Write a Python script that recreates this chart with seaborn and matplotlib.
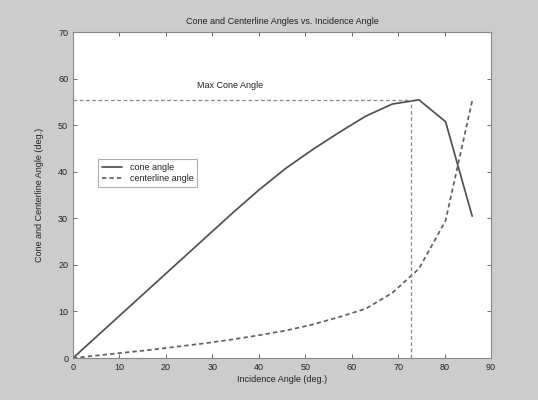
import numpy as np
import pandas as pd
import matplotlib
matplotlib.use("Agg")
import matplotlib.pyplot as plt
import seaborn as sns

# --- data (incidence angle sampled every 0.1 rad) ---
incidence = [0, 5.73, 11.46, 17.19, 22.92, 28.65, 34.38, 40.11, 45.84,
             51.57, 57.30, 63.03, 68.75, 74.48, 80.21, 85.94]
cone_angle = [0, 5.2, 10.4, 15.6, 20.8, 26.0, 31.2, 36.2, 40.8,
              44.8, 48.5, 52.0, 54.6, 55.5, 50.8, 30.5]
centerline_angle = [0, 0.6, 1.2, 1.8, 2.5, 3.2, 4.0, 4.9, 5.9,
                    7.2, 8.8, 10.6, 14.0, 19.2, 29.5, 55.3]
max_cone = 55.5
max_cone_incidence = 72.8

df = pd.DataFrame({
    "incidence": incidence * 2,
    "angle": cone_angle + centerline_angle,
    "series": ["cone angle"] * len(incidence) + ["centerline angle"] * len(incidence),
})

sns.set_theme(style="ticks")
plt.rcParams["font.family"] = ["Liberation Sans", "DejaVu Sans"]

fig = plt.figure(figsize=(5.38, 4.0), dpi=100, facecolor="#cccccc")
ax = fig.add_axes([0.1357, 0.105, 0.777, 0.814])
ax.set_facecolor("white")

sns.lineplot(data=df, x="incidence", y="angle", hue="series", style="series",
             palette={"cone angle": "#505050", "centerline angle": "#606060"},
             dashes={"cone angle": "", "centerline angle": (2.5, 1.8)},
             linewidth=1.25, ax=ax, sort=False)

# max cone angle guides
ax.plot([0, max_cone_incidence], [max_cone, max_cone], color="#8a8a8a",
        linestyle=(0, (3, 2)), linewidth=0.9)
ax.plot([max_cone_incidence, max_cone_incidence], [0, max_cone], color="#8a8a8a",
        linestyle=(0, (3, 2)), linewidth=0.9)
ax.text(26.7, 58.5, "Max Cone Angle", fontsize=6.5, va="center", ha="left", color="#222222")

ax.set_xlim(0, 90)
ax.set_ylim(0, 70)
ax.set_xticks(range(0, 91, 10))
ax.set_yticks(range(0, 71, 10))
ax.tick_params(direction="in", top=True, right=True, labelsize=6.5,
               length=3, width=0.6, colors="#555555", labelcolor="#222222")
for s in ax.spines.values():
    s.set_color("#888888")
    s.set_linewidth(0.8)

ax.set_title("Cone and Centerline Angles vs. Incidence Angle", fontsize=6.5, color="#222222", pad=6)
ax.set_xlabel("Incidence Angle (deg.)", fontsize=6.5, color="#222222", labelpad=2)
ax.set_ylabel("Cone and Centerline Angle (deg.)", fontsize=6.5, color="#222222", labelpad=10)

leg = ax.legend(loc="upper left", bbox_to_anchor=(0.05, 0.625), fontsize=6.5,
                frameon=True, fancybox=False, handlelength=2.2, borderpad=0.45,
                labelspacing=0.2)
leg.get_frame().set_edgecolor("#999999")
leg.get_frame().set_linewidth(0.8)
for t in leg.get_texts():
    t.set_color("#222222")

fig.savefig("out.png", dpi=100, facecolor=fig.get_facecolor())
